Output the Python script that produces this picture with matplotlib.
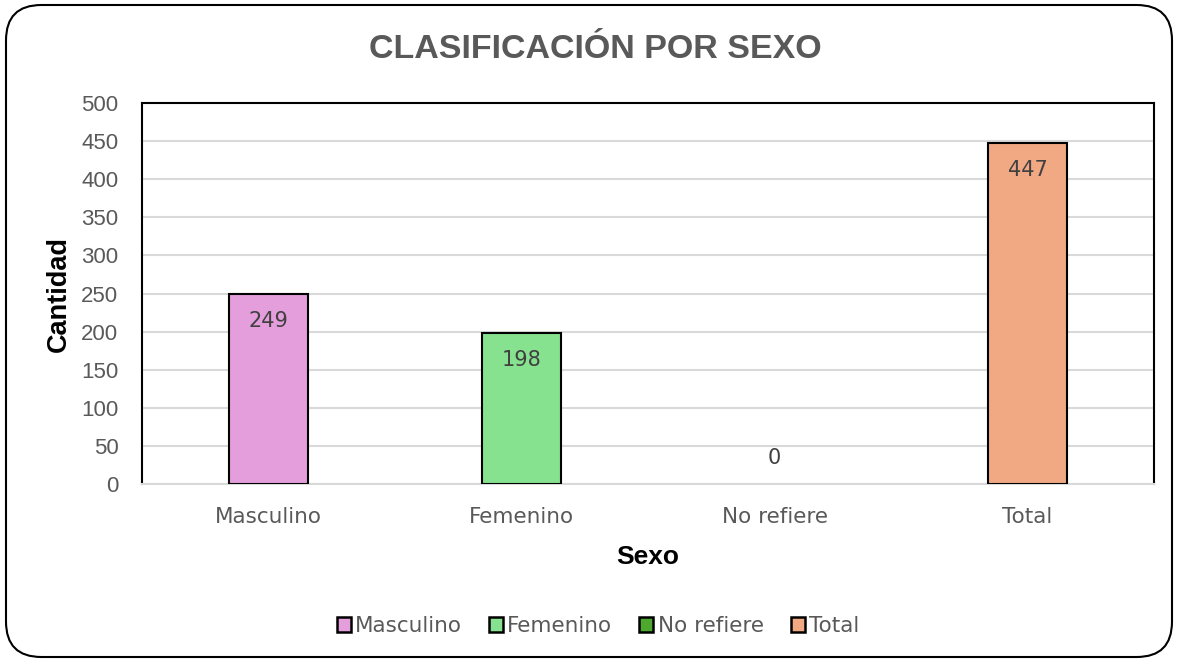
import matplotlib.pyplot as plt
from matplotlib.patches import FancyBboxPatch, Patch

categorias = ['Masculino', 'Femenino', 'No refiere', 'Total']
cantidades = [249, 198, 0, 447]
colores = ['#e39edb', '#86e28f', '#4ea72e', '#f1a983']
yticks = [0, 50, 100, 150, 200, 250, 300, 350, 400, 450, 500]

gris = '#595959'

fig = plt.figure(figsize=(11.79, 6.62), dpi=100)
ax = fig.add_axes([142 / 1179, 1 - 484 / 662, (1154 - 142) / 1179, (484 - 103) / 662])

x = list(range(len(categorias)))
bordes = [1.5 if v > 0 else 0 for v in cantidades]
ax.bar(x, cantidades, width=0.31, color=colores, edgecolor='black', linewidth=bordes, zorder=3)

for xi, v in zip(x, cantidades):
    off = -27 if v > 0 else 26
    ax.annotate(str(v), (xi, v), xytext=(0, off * 0.72), textcoords='offset points',
                ha='center', va='center', fontsize=15, color='#404040', family='DejaVu Sans', zorder=4)

ax.set_xlim(-0.5, 3.5)
ax.set_ylim(0, 500)
ax.set_yticks(yticks)
ax.grid(axis='y', color='#d9d9d9', linewidth=1.5, zorder=0)
ax.set_xticks(x)
ax.set_xticklabels(categorias, family='DejaVu Sans', fontsize=15.5, color=gris)
for lab in ax.get_yticklabels():
    lab.set_family('Liberation Sans')
    lab.set_fontsize(16)
    lab.set_color(gris)
ax.tick_params(axis='both', length=0)
ax.tick_params(axis='x', pad=16.5)
ax.tick_params(axis='y', pad=17)

for s in ['left', 'top', 'right']:
    ax.spines[s].set_color('black')
    ax.spines[s].set_linewidth(1.5)
ax.spines['bottom'].set_color('#d9d9d9')
ax.spines['bottom'].set_linewidth(1.5)

ax.set_ylabel('Cantidad', fontsize=19.5, fontweight='bold', family='Liberation Sans', labelpad=7)
ax.set_xlabel('Sexo', fontsize=19, fontweight='bold', family='Liberation Sans', labelpad=13)

fig.text(595 / 1179, 1 - 49 / 662, 'CLASIFICACIÓN POR SEXO', ha='center', va='center',
         fontsize=24.5, fontweight='bold', color=gris, family='Liberation Sans')

handles = [Patch(facecolor=c, edgecolor='black', linewidth=1.8) for c in colores]
fig.legend(handles, categorias, loc='center', bbox_to_anchor=(598 / 1179, 1 - 626 / 662), ncol=4,
           frameon=False, prop={'family': 'DejaVu Sans', 'size': 15.5}, labelcolor=gris,
           handlelength=0.65, handleheight=0.65, handletextpad=0.2, columnspacing=1.25)

box = FancyBboxPatch((6 / 1179, 5 / 662), 1166 / 1179, 652 / 662,
                     boxstyle='round,pad=0,rounding_size=0.03', transform=fig.transFigure,
                     facecolor='none', edgecolor='black', linewidth=1.5, mutation_aspect=1179 / 662)
fig.patches.append(box)

fig.savefig('out.png', dpi=100)
